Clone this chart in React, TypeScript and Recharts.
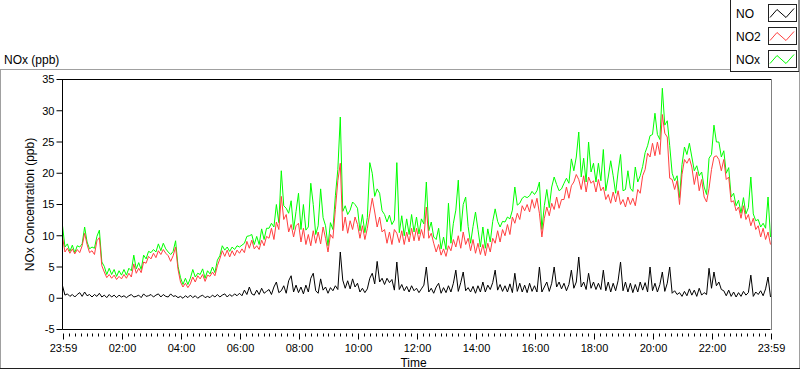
import React from 'react';
import { LineChart, Line, XAxis, YAxis } from 'recharts';

// one sample every 5 minutes, starting at 23:59 of the previous day
const sampleStep = 5;

const no = [
  2.0, 0.5, 0.7, 0.3, 0.6, 0.2, 0.6, 0.9, 0.3, 1.0, 0.4, 0.6,
  0.2, 0.6, 0.3, 0.8, 0.2, 0.5, 0.1, 0.6, 0.2, 0.5, 0.1, 0.5,
  0.2, 0.4, 0.1, 0.4, 0.6, 0.2, 0.3, 0.5, 0.1, 0.7, 0.3, 0.4,
  0.6, 0.2, 0.5, 0.7, 0.2, 0.6, 0.3, 0.2, 0.7, 0.3, 0.4, 0.1,
  0.3, 0.0, 0.4, 0.1, 0.5, 0.1, 0.4, 0.0, 0.3, 0.5, 0.1, 0.3,
  0.1, 0.5, 0.2, 0.6, 0.2, 0.5, 0.7, 0.2, 0.6, 0.3, 0.7, 0.4,
  0.8, 0.4, 1.3, 0.6, 1.8, 0.7, 0.5, 1.3, 0.6, 1.6, 0.8, 1.1,
  1.4, 0.6, 1.8, 2.6, 0.9, 1.2, 2.0, 0.8, 2.8, 3.6, 1.0, 2.1,
  0.9, 1.8, 0.7, 2.1, 1.0, 3.2, 4.0, 1.2, 0.8, 3.1, 1.3, 1.8,
  0.8, 1.7, 1.2, 2.0, 1.4, 7.4, 2.9, 1.6, 2.8, 1.5, 3.1, 1.8,
  2.4, 1.0, 1.6, 0.9, 1.5, 3.2, 4.0, 2.3, 5.9, 2.6, 3.2, 2.2,
  3.2, 2.5, 3.0, 1.3, 5.8, 1.4, 2.2, 1.2, 1.9, 1.0, 2.0, 1.2,
  1.6, 0.9, 1.5, 2.1, 5.0, 1.0, 1.6, 0.8, 1.8, 2.4, 0.8, 1.7,
  0.9, 2.0, 1.0, 2.4, 4.5, 1.1, 2.5, 4.2, 1.2, 1.7, 1.0, 1.9,
  0.8, 2.0, 1.0, 2.6, 1.0, 2.1, 1.4, 2.5, 4.5, 1.3, 2.2, 1.1,
  2.0, 1.0, 2.3, 0.9, 4.0, 1.1, 2.4, 1.0, 2.1, 0.9, 2.4, 1.1,
  2.0, 1.0, 5.0, 1.0, 1.8, 2.6, 1.1, 2.4, 5.0, 1.8, 2.6, 1.5,
  2.4, 1.2, 2.2, 4.5, 1.6, 2.6, 6.6, 1.8, 2.6, 1.4, 4.0, 1.6,
  2.6, 1.4, 2.4, 1.4, 4.5, 1.2, 2.6, 1.0, 2.4, 1.2, 2.8, 5.8,
  1.2, 2.6, 1.0, 2.4, 0.9, 2.2, 1.0, 2.6, 1.3, 2.5, 1.0, 5.0,
  1.2, 2.4, 1.0, 2.2, 4.2, 1.1, 2.4, 5.0, 0.8, 1.2, 0.6, 0.9,
  0.3, 1.1, 0.4, 1.5, 0.5, 1.3, 0.3, 1.6, 0.5, 0.9, 0.6, 4.8,
  1.6, 4.2, 2.0, 2.6, 1.4, 1.2, 0.4, 1.3, 0.3, 1.0, 0.2, 0.9,
  0.3, 1.1, 0.5, 0.9, 3.7, 0.3, 1.0, 0.6, 1.2, 0.4, 1.5, 3.4,
  0.2,
];

const no2 = [
  9.8, 7.4, 8.0, 7.2, 7.9, 7.1, 7.8, 7.3, 8.4, 10.4, 8.6, 7.3,
  7.6, 7.0, 9.2, 9.7, 5.2, 4.2, 3.3, 3.8, 3.2, 3.7, 3.0, 3.5,
  3.1, 3.8, 3.2, 4.0, 3.4, 5.5, 4.0, 4.8, 4.1, 5.8, 5.6, 6.7,
  6.3, 7.2, 6.5, 7.6, 7.0, 7.8, 7.2, 6.8, 5.9, 6.8, 8.2, 4.6,
  2.6, 1.8, 2.4, 1.7, 2.3, 3.4, 2.6, 3.6, 3.1, 3.8, 2.7, 3.7,
  3.5, 4.2, 3.6, 5.2, 6.3, 7.6, 6.7, 7.7, 6.6, 7.6, 6.8, 7.7,
  7.2, 7.9, 7.3, 9.1, 8.0, 9.3, 7.9, 8.4, 7.8, 9.3, 8.4, 9.9,
  9.6, 11.2, 9.4, 12.2, 11.0, 16.3, 12.6, 13.4, 10.6, 11.8, 9.8, 11.6,
  12.0, 9.0, 11.2, 8.6, 10.2, 8.4, 10.8, 8.8, 10.6, 8.7, 11.4, 9.6,
  7.4, 10.2, 9.6, 14.2, 18.8, 21.6, 10.8, 13.0, 10.4, 12.4, 11.0, 13.0,
  11.8, 9.6, 11.6, 9.4, 11.2, 13.6, 16.0, 13.8, 11.4, 13.0, 10.6, 11.0,
  8.8, 10.6, 8.6, 11.0, 10.4, 8.9, 10.8, 8.6, 10.6, 9.0, 11.2, 9.2,
  11.2, 9.2, 11.0, 9.6, 14.6, 9.6, 10.4, 8.8, 7.4, 8.6, 6.9, 7.9,
  6.7, 8.4, 7.6, 9.4, 8.2, 10.0, 8.0, 10.6, 8.6, 9.6, 7.6, 9.4,
  7.2, 8.8, 7.0, 8.6, 6.8, 8.8, 7.4, 9.6, 8.8, 10.8, 9.0, 11.0,
  10.0, 11.8, 10.2, 13.0, 12.0, 13.6, 12.6, 14.8, 14.0, 15.0, 13.8, 15.8,
  14.4, 16.0, 13.6, 9.8, 12.8, 14.6, 13.2, 15.2, 14.2, 16.2, 14.4, 15.8,
  15.8, 17.8, 16.0, 18.0, 18.6, 19.8, 19.0, 17.4, 19.6, 17.0, 19.4, 18.4,
  18.8, 17.0, 19.0, 17.2, 17.8, 15.8, 16.6, 15.2, 17.0, 15.4, 17.2, 15.0,
  15.8, 14.6, 16.2, 15.0, 16.0, 14.8, 17.4, 16.8, 19.6, 20.6, 23.2, 22.6,
  24.8, 22.8, 25.0, 23.0, 29.4, 26.4, 25.8, 19.2, 19.0, 17.4, 18.8, 15.0,
  19.8, 22.2, 21.6, 22.4, 21.0, 18.2, 20.2, 17.2, 19.0, 16.2, 15.4, 17.6,
  20.6, 22.6, 22.8, 22.2, 20.4, 22.2, 19.0, 19.4, 15.4, 15.6, 14.0, 14.6,
  12.8, 14.8, 12.6, 13.4, 11.6, 12.8, 11.0, 11.6, 9.8, 11.2, 9.4, 10.6,
  8.6,
];

const nox = [
  11.6, 8.2, 8.7, 7.5, 8.5, 7.3, 8.4, 8.2, 8.7, 11.4, 9.0, 7.9,
  8.2, 8.0, 9.9, 10.9, 5.8, 5.1, 3.8, 4.8, 3.8, 4.6, 3.5, 4.4,
  3.7, 4.6, 3.7, 4.8, 4.4, 6.9, 4.7, 5.7, 4.6, 6.9, 6.3, 7.5,
  7.3, 7.8, 7.4, 8.7, 7.6, 8.8, 7.9, 7.4, 7.0, 7.5, 9.2, 5.1,
  3.3, 2.2, 3.2, 2.2, 3.2, 4.6, 3.4, 4.0, 3.8, 4.7, 3.2, 4.4,
  3.9, 5.0, 4.1, 6.1, 6.8, 8.4, 7.7, 8.2, 7.5, 8.2, 7.8, 8.4,
  8.2, 8.5, 8.8, 9.9, 10.0, 10.2, 8.6, 9.9, 8.6, 11.1, 9.4, 11.2,
  11.2, 12.0, 11.4, 15.0, 12.1, 20.4, 14.8, 14.4, 13.6, 15.6, 11.0, 13.9,
  16.8, 11.0, 15.0, 10.9, 11.4, 18.4, 15.0, 10.2, 11.6, 17.5, 12.9, 11.6,
  8.4, 12.1, 11.0, 16.4, 20.6, 29.0, 13.9, 14.8, 13.4, 14.1, 15.4, 15.0,
  14.4, 10.8, 13.4, 10.5, 12.9, 21.7, 20.0, 16.3, 17.5, 16.8, 14.0, 13.4,
  12.2, 13.3, 11.8, 12.5, 21.7, 10.5, 13.2, 10.0, 12.7, 10.2, 13.4, 10.6,
  13.0, 10.3, 12.7, 11.9, 18.6, 10.8, 12.2, 9.8, 9.4, 11.2, 7.9, 9.8,
  7.8, 15.2, 8.8, 12.0, 14.1, 18.9, 10.7, 15.0, 16.2, 11.5, 8.8, 11.5,
  13.8, 11.0, 8.2, 11.4, 8.0, 11.1, 9.0, 12.3, 14.3, 12.3, 11.4, 12.3,
  12.2, 13.0, 12.7, 14.1, 17.8, 14.9, 15.2, 16.0, 16.3, 16.1, 16.4, 17.1,
  16.6, 17.2, 18.6, 11.0, 14.8, 17.4, 14.5, 17.8, 19.4, 18.2, 17.2, 17.5,
  18.4, 19.2, 18.4, 22.3, 20.4, 22.6, 26.6, 19.4, 22.4, 18.6, 25.0, 20.2,
  21.6, 18.6, 21.6, 18.8, 23.8, 17.2, 19.4, 22.0, 19.6, 16.8, 20.2, 23.0,
  17.2, 17.4, 20.4, 17.6, 17.1, 21.0, 18.6, 19.6, 21.1, 23.3, 24.4, 26.0,
  26.2, 29.6, 26.2, 25.4, 33.6, 27.7, 28.4, 24.4, 20.0, 18.8, 19.6, 16.1,
  21.4, 24.2, 23.0, 24.8, 22.6, 20.4, 21.2, 19.6, 20.2, 17.8, 16.6, 22.4,
  23.0, 27.7, 25.0, 25.0, 22.6, 23.6, 20.0, 20.9, 16.2, 16.8, 14.8, 15.7,
  13.6, 16.1, 13.5, 14.5, 19.4, 13.5, 12.4, 12.6, 11.4, 12.0, 11.2, 16.2,
  9.8,
];

// minutes after 23:59 where the labelled ticks sit
const majorTicks = [0, 121, 241, 361, 481, 601, 721, 841, 961, 1081, 1201, 1321, 1440];
const majorLabels = ['23:59', '02:00', '04:00', '06:00', '08:00', '10:00', '12:00',
  '14:00', '16:00', '18:00', '20:00', '22:00', '23:59'];
const yTicks = [-5, 0, 5, 10, 15, 20, 25, 30, 35];

// small ticks every 12 minutes between the labelled ones
const minorTicks = Array.from({ length: 119 }, (_, i) => 13 + i * 12).filter(
  (m) => !majorTicks.includes(m)
);
const allTicks = [...majorTicks, ...minorTicks].sort((a, b) => a - b);

const data = no2.map((v, i) => ({ t: i * sampleStep, no: no[i], no2: v, nox: nox[i] }));

const FONT = '"Liberation Sans", Arial, sans-serif';

const TimeTick = (props: any) => {
  const { x, y, payload } = props;
  const idx = majorTicks.indexOf(payload.value);
  const px = Math.round(x) + 0.5;
  return (
    <g>
      <line x1={px} x2={px} y1={y + 2} y2={y + (idx >= 0 ? 8 : 5)} stroke="#000" />
      {idx >= 0 && (
        <text x={px} y={y + 20} textAnchor="middle" fontSize={11} fill="#000">
          {majorLabels[idx]}
        </text>
      )}
    </g>
  );
};

const legendItems = [
  { name: 'NO', color: '#000000' },
  { name: 'NO2', color: '#ff4040' },
  { name: 'NOx', color: '#00ff00' },
];

const Legend = () => (
  <svg width={70} height={73} style={{ position: 'absolute', left: 730, top: 0 }}>
    <rect x={0.5} y={-1} width={68.5} height={72.5} fill="#fff" stroke="#202020" />
    {legendItems.map((it, i) => (
      <g key={it.name} transform={`translate(0, ${i * 23})`}>
        <text x={6} y={18} fontSize={12} fill="#000">{it.name}</text>
        <rect x={38.5} y={4.5} width={28} height={17} fill="#fff" stroke="#202020" />
        <polyline points="40,17.5 47,9.5 56,17.5 64,8.5" fill="none" stroke={it.color} />
      </g>
    ))}
  </svg>
);

export default function App() {
  return (
    <div style={{ position: 'absolute', left: 0, top: 0, width: 800, height: 369, fontFamily: FONT, background: '#fff' }}>
      <div style={{ position: 'absolute', left: 4, top: 53, fontSize: 12, lineHeight: '14px' }}>NOx (ppb)</div>
      {/* outer frame */}
      <div style={{ position: 'absolute', left: 0, top: 69, width: 730, borderTop: '1px solid #a0a0a0' }} />
      <div style={{ position: 'absolute', left: 0, top: 69, height: 300, borderLeft: '1px solid #a0a0a0' }} />
      <div style={{ position: 'absolute', left: 799, top: 72, height: 297, borderLeft: '1px solid #a0a0a0' }} />
      <div style={{ position: 'absolute', left: 0, top: 368, width: 800, borderTop: '1px solid #202020' }} />
      <div style={{ position: 'absolute', left: 0, top: 0 }}>
        <LineChart width={800} height={369} data={data} margin={{ top: 79.5, right: 29.5, bottom: 0, left: 0.5 }}>
          <XAxis
            dataKey="t"
            type="number"
            domain={[0, 1440]}
            ticks={allTicks}
            interval={0}
            tickLine={false}
            tickSize={0}
            tick={<TimeTick />}
            axisLine={{ stroke: '#000' }}
            height={39.5}
            label={{ value: 'Time', position: 'insideBottom', offset: 2, dx: -3, fontSize: 12, fill: '#000' }}
          />
          <YAxis
            type="number"
            domain={[-5, 35]}
            ticks={yTicks}
            interval={0}
            width={62}
            tickSize={6}
            tick={{ fontSize: 11, fill: '#000' }}
            tickLine={{ stroke: '#000' }}
            axisLine={{ stroke: '#000' }}
            label={{ value: 'NOx Concentration (ppb)', angle: -90, position: 'insideLeft', offset: 29, fontSize: 12, fill: '#000', style: { textAnchor: 'middle' } }}
          />
          <Line type="linear" dataKey="nox" stroke="#00ff00" strokeWidth={1} dot={false} isAnimationActive={false} />
          <Line type="linear" dataKey="no2" stroke="#ff4040" strokeWidth={1} dot={false} isAnimationActive={false} />
          <Line type="linear" dataKey="no" stroke="#000000" strokeWidth={1} dot={false} isAnimationActive={false} />
        </LineChart>
      </div>
      {/* plot frame, top and right */}
      <div style={{ position: 'absolute', left: 62, top: 79, width: 710, borderTop: '1px solid #000' }} />
      <div style={{ position: 'absolute', left: 771, top: 79, height: 251, borderLeft: '1px solid #808080' }} />
      <Legend />
    </div>
  );
}
